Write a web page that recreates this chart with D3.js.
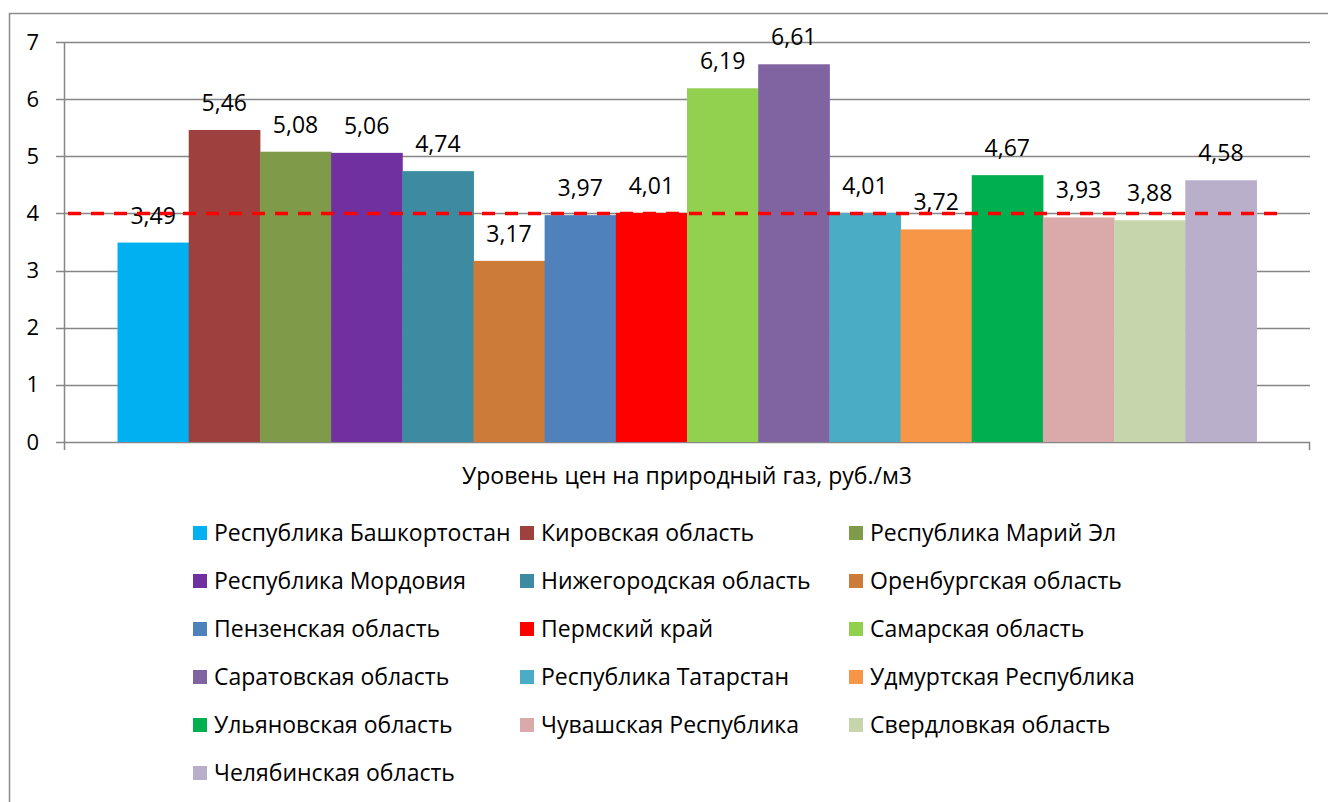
<!DOCTYPE html>
<html>
<head>
<meta charset="utf-8">
<script src="https://cdn.jsdelivr.net/npm/d3@7"></script>
<style>
  body { margin: 0; background: #fff; }
  svg { display: block; font-family: "Open Sans", "Noto Sans", sans-serif; }
</style>
</head>
<body>
<div id="chart"></div>
<script>
// Data
const regions = [
  'Республика Башкортостан', 'Кировская область', 'Республика Марий Эл',
  'Республика Мордовия', 'Нижегородская область', 'Оренбургская область',
  'Пензенская область', 'Пермский край', 'Самарская область',
  'Саратовская область', 'Республика Татарстан', 'Удмуртская Республика',
  'Ульяновская область', 'Чувашская Республика', 'Свердловкая область',
  'Челябинская область'
];
const prices = [3.49, 5.46, 5.08, 5.06, 4.74, 3.17, 3.97, 4.01, 6.19, 6.61, 4.01, 3.72, 4.67, 3.93, 3.88, 4.58];
const colors = [
  '#00b0f0', '#9e413e', '#7f9a48', '#7030a0', '#3d8ba0', '#cc7b38',
  '#4f81bd', '#ff0000', '#92d050', '#8064a2', '#4bacc6', '#f79646',
  '#00b050', '#d9aaa9', '#c6d5ab', '#b9afcb'
];
const yTicks = [0, 1, 2, 3, 4, 5, 6, 7];
const category = 'Уровень цен на природный газ, руб./м3';
const refLevel = 4;

const W = 1328, H = 802;
const plot = { left: 64, right: 1310, top: 42, bottom: 442 };
const fmt = v => d3.format('.2f')(v).replace('.', ',');

const svg = d3.select('#chart').append('svg')
  .attr('width', W).attr('height', H);

// outer frame (clipped by the page)
svg.append('rect')
  .attr('x', 9.5).attr('y', 13.5).attr('width', W + 20).attr('height', H + 20)
  .attr('fill', 'none').attr('stroke', '#8a8a8a').attr('stroke-width', 1.5);

const y = d3.scaleLinear().domain([0, 7]).range([plot.bottom, plot.top]);
const xCat = d3.scaleBand().domain([category]).range([plot.left, plot.right]).paddingOuter(0.047);
const x = d3.scaleBand().domain(regions).range([xCat(category), xCat(category) + xCat.bandwidth()]).padding(0);

// gridlines
svg.append('g')
  .selectAll('line')
  .data(yTicks)
  .join('line')
  .attr('x1', plot.left - 8).attr('x2', plot.right)
  .attr('y1', d => Math.round(y(d)) + 0.5).attr('y2', d => Math.round(y(d)) + 0.5)
  .attr('stroke', '#868686').attr('stroke-width', 1.5);

// y axis
svg.append('g')
  .attr('transform', `translate(${plot.left},0)`)
  .call(d3.axisLeft(y).tickValues(yTicks).tickSize(0).tickPadding(25).tickFormat(d3.format('d')))
  .call(ax => ax.select('.domain').remove())
  .call(ax => ax.selectAll('text')
    .attr('font-size', '22px')
    .attr('fill', '#000')
    .attr('font-family', '"Open Sans", sans-serif'));

svg.append('line')
  .attr('x1', plot.left + 0.5).attr('x2', plot.left + 0.5)
  .attr('y1', plot.top).attr('y2', plot.bottom + 8)
  .attr('stroke', '#868686').attr('stroke-width', 1.5);
svg.append('line')
  .attr('x1', plot.right - 0.5).attr('x2', plot.right - 0.5)
  .attr('y1', plot.bottom).attr('y2', plot.bottom + 8)
  .attr('stroke', '#868686').attr('stroke-width', 1.5);

// bars
svg.append('g')
  .selectAll('rect')
  .data(regions)
  .join('rect')
  .attr('x', d => x(d))
  .attr('y', (d, i) => y(prices[i]))
  .attr('width', x.bandwidth() + 0.5)
  .attr('height', (d, i) => y(0) - y(prices[i]))
  .attr('fill', (d, i) => colors[i]);

// value labels
svg.append('g')
  .selectAll('text')
  .data(regions)
  .join('text')
  .attr('x', d => x(d) + x.bandwidth() / 2)
  .attr('y', (d, i) => y(prices[i]) - 19)
  .attr('text-anchor', 'middle')
  .attr('font-size', '23px')
  .attr('fill', '#000')
  .text((d, i) => fmt(prices[i]));

// reference line
svg.append('line')
  .attr('x1', plot.left + 4).attr('x2', 1284)
  .attr('y1', y(refLevel)).attr('y2', y(refLevel))
  .attr('stroke', '#ff0000').attr('stroke-width', 3.5)
  .attr('stroke-dasharray', '13,10');

// category label
svg.append('text')
  .attr('x', xCat(category) + xCat.bandwidth() / 2)
  .attr('y', 484)
  .attr('text-anchor', 'middle')
  .attr('font-size', '23px')
  .attr('fill', '#000')
  .text(category);

// legend
const colX = [193, 520, 849];
const legend = svg.append('g')
  .selectAll('g')
  .data(regions)
  .join('g')
  .attr('transform', (d, i) => `translate(${colX[i % 3]},${533 + Math.floor(i / 3) * 48})`);
legend.append('rect')
  .attr('x', 0).attr('y', -7).attr('width', 14).attr('height', 14)
  .attr('fill', (d, i) => colors[i]);
legend.append('text')
  .attr('x', 21).attr('y', 8)
  .attr('font-size', '23px')
  .attr('fill', '#000')
  .text(d => d);
</script>
</body>
</html>
